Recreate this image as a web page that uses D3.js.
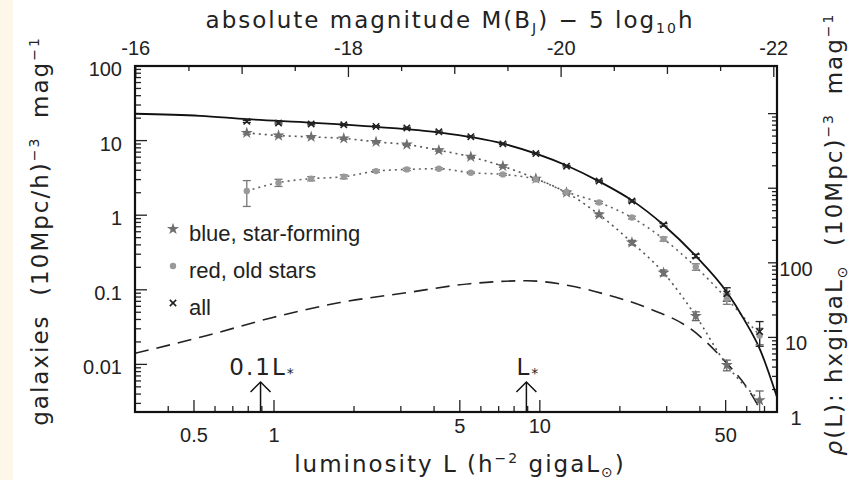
<!DOCTYPE html>
<html>
<head>
  <meta charset="utf-8">
  <title>Galaxy luminosity function</title>
  <script src="https://d3js.org/d3.v7.min.js"></script>
  <style>
    body { margin: 0; background: #fff; }
    .tick-label { font: 20px "Liberation Sans", Arial, sans-serif; fill: #222; }
    .title { font: 23px "DejaVu Sans", sans-serif; fill: #222; letter-spacing: 2px; }
    .legend { font: 22px "Liberation Sans", Arial, sans-serif; fill: #222; }
  </style>
</head>
<body>
  <script>
    // luminosity bins (h^-2 gigaL_sun) and space densities
    const lum = [0.79, 1.04, 1.38, 1.83, 2.42, 3.16, 4.17, 5.5, 7.26, 9.66, 12.6, 16.7, 22.2, 29.2, 38.6, 50.5, 67.1];
    const phiAll = [18.1, 17.2, 16.7, 16.3, 15.5, 14.8, 13.1, 11.3, 9.04, 6.71, 4.54, 2.87, 1.55, 0.743, 0.284, 0.0885, 0.0275];
    const errAll = [0.6, 0.5, 0.4, 0.4, 0.35, 0.3, 0.3, 0.25, 0.2, 0.15, 0.1, 0.07, 0.05, 0.03, 0.015, 0.018, 0.01];
    const phiBlue = [12.7, 11.7, 11.2, 10.7, 9.61, 8.85, 7.43, 6.06, 4.54, 3.09, 2.01, 1.02, 0.43, 0.169, 0.0446, 0.0098, 0.0033];
    const errBlue = [0.5, 0.4, 0.3, 0.3, 0.3, 0.25, 0.2, 0.2, 0.15, 0.1, 0.08, 0.05, 0.03, 0.015, 0.006, 0.0016, 0.0011];
    const phiRed = [2.11, 2.73, 3.09, 3.28, 3.90, 4.11, 4.20, 3.71, 3.52, 3.02, 2.05, 1.48, 0.93, 0.479, 0.203, 0.0759, 0.0244];
    const errRed = [0.8, 0.3, 0.2, 0.2, 0.15, 0.15, 0.12, 0.1, 0.1, 0.08, 0.06, 0.05, 0.04, 0.03, 0.02, 0.012, 0.006];

    // Schechter fit (solid line)
    const fitL = [0.30, 0.527, 0.79, 1.38, 2.42, 4.17, 7.26, 12.6, 16.7, 22.2, 29.2, 38.6, 50.5, 59, 67.1, 77.8];
    const fitPhi = [22.9, 21.5, 19.4, 17.4, 15.3, 12.9, 9.12, 4.64, 2.84, 1.58, 0.74, 0.284, 0.0933, 0.0386, 0.0163, 0.00374];

    // luminosity density (dashed line, right axis)
    const densL = [0.30, 0.56, 0.99, 1.77, 3.16, 5.46, 8.93, 12.97, 17.3, 25.2, 37.6, 50.5, 60, 68.4];
    const densRho = [6.12, 10.6, 18.5, 29.3, 39.8, 52.5, 57.5, 49.3, 38.6, 25.1, 12.4, 4.5, 2.15, 1.0];

    const lStar = 8.9;
    const magOffset = -17.3; // M(B_J) - 5log h at L = 1

    const xMajor = [0.5, 1, 5, 10, 50];
    const xMinor = [0.4, 0.6, 0.7, 0.8, 0.9, 2, 3, 4, 6, 7, 8, 9, 20, 30, 40, 60, 70];
    const yMajor = [0.01, 0.1, 1, 10, 100];
    const yRMajor = [1, 10, 100, 1000, 10000];
    const yRLabels = [1, 10, 100];
    const magLabels = [-16, -18, -20, -22];
    const magTicks = [-16, -16.5, -17, -17.5, -18, -18.5, -19, -19.5, -20, -20.5, -21, -21.5, -22];

    const width = 863, height = 480;
    const pL = 135, pR = 777, pT = 66, pB = 412;

    const x = d3.scaleLog().domain([0.3, 78]).range([pL, pR]);
    const y = d3.scaleLog().domain([0.0023, 100]).range([pB, pT]);
    const yR = d3.scaleLog().domain([1, 43500]).range([pB, pT]);
    const xm = d3.scaleLinear()
      .domain([magOffset - 2.5 * Math.log10(0.3), magOffset - 2.5 * Math.log10(78)])
      .range([pL, pR]);

    const svg = d3.select("body").append("svg")
      .attr("width", width)
      .attr("height", height);

    svg.append("rect").attr("width", 13).attr("height", height).attr("fill", "#fdf7ea");

    svg.append("clipPath").attr("id", "clip")
      .append("rect").attr("x", pL).attr("y", pT)
      .attr("width", pR - pL).attr("height", pB - pT);

    // minor ticks for log axes
    function minors(lo, hi) {
      const out = [];
      for (let d = lo; d < hi; d *= 10)
        for (let k = 2; k <= 9; k++) out.push(d * k);
      return out;
    }

    const ax = svg.append("g").attr("stroke", "#222").attr("stroke-width", 1.3);

    // bottom ticks
    xMajor.concat(xMinor).forEach(v => {
      const len = xMajor.includes(v) ? 12 : 6;
      ax.append("line").attr("x1", x(v)).attr("x2", x(v)).attr("y1", pB).attr("y2", pB - len);
    });
    // top ticks (magnitude)
    magTicks.forEach(m => {
      const len = magLabels.includes(m) ? 11 : (Number.isInteger(m) ? 8 : 5);
      ax.append("line").attr("x1", xm(m)).attr("x2", xm(m)).attr("y1", pT).attr("y2", pT + len);
    });
    // left ticks
    yMajor.forEach(v => ax.append("line").attr("x1", pL).attr("x2", pL + 12).attr("y1", y(v)).attr("y2", y(v)));
    minors(0.001, 100).filter(v => v > 0.0023 && v < 100).forEach(v =>
      ax.append("line").attr("x1", pL).attr("x2", pL + 6).attr("y1", y(v)).attr("y2", y(v)));
    // right ticks
    yRMajor.forEach(v => ax.append("line").attr("x1", pR).attr("x2", pR - 9).attr("y1", yR(v)).attr("y2", yR(v)));
    minors(1, 10000).filter(v => v < 43500).forEach(v =>
      ax.append("line").attr("x1", pR).attr("x2", pR - 5).attr("y1", yR(v)).attr("y2", yR(v)));

    // tick labels
    const fmt = v => v < 1 ? String(v) : d3.format("d")(v);
    svg.selectAll(".xl").data(xMajor).join("text")
      .attr("class", "tick-label")
      .attr("x", d => x(d)).attr("y", d => (d === 5 || d === 10) ? 433 : 442)
      .attr("text-anchor", "middle").text(fmt);
    svg.selectAll(".ml").data(magLabels).join("text")
      .attr("class", "tick-label")
      .attr("x", d => xm(d)).attr("y", 55)
      .attr("text-anchor", "middle").text(d => String(d));
    svg.selectAll(".yl").data(yMajor).join("text")
      .attr("class", "tick-label")
      .attr("x", 122).attr("y", d => y(d) + 10)
      .attr("text-anchor", "end").text(fmt);
    svg.selectAll(".yrl").data(yRLabels).join("text")
      .attr("class", "tick-label")
      .attr("x", 796).attr("y", d => yR(d) + 13)
      .attr("text-anchor", "middle").text(fmt);

    // plot contents
    const plot = svg.append("g").attr("clip-path", "url(#clip)");

    const smooth = d3.line().x(d => x(d[0])).y(d => y(d[1])).curve(d3.curveMonotoneX);

    plot.append("path")
      .datum(densL.map((l, i) => [l, densRho[i]]))
      .attr("fill", "none").attr("stroke", "#222").attr("stroke-width", 1.6)
      .attr("stroke-dasharray", "14,8")
      .attr("d", d3.line().x(d => x(d[0])).y(d => yR(d[1])).curve(d3.curveMonotoneX));

    plot.append("path")
      .datum(lum.map((l, i) => [l, phiBlue[i]]))
      .attr("fill", "none").attr("stroke", "#555").attr("stroke-width", 1.6)
      .attr("stroke-dasharray", "2,4").attr("d", smooth);

    plot.append("path")
      .datum(lum.map((l, i) => [l, phiRed[i]]))
      .attr("fill", "none").attr("stroke", "#666").attr("stroke-width", 1.6)
      .attr("stroke-dasharray", "2,4").attr("d", smooth);

    plot.append("path")
      .datum(fitL.map((l, i) => [l, fitPhi[i]]))
      .attr("fill", "none").attr("stroke", "#111").attr("stroke-width", 1.8)
      .attr("d", smooth);

    function errorBars(vals, errs, color) {
      lum.forEach((l, i) => {
        const lo = Math.max(vals[i] - errs[i], 0.0001), hi = vals[i] + errs[i];
        const g = plot.append("g").attr("stroke", color).attr("stroke-width", 1.3);
        g.append("line").attr("x1", x(l)).attr("x2", x(l)).attr("y1", y(lo)).attr("y2", y(hi));
        g.append("line").attr("x1", x(l) - 4).attr("x2", x(l) + 4).attr("y1", y(lo)).attr("y2", y(lo));
        g.append("line").attr("x1", x(l) - 4).attr("x2", x(l) + 4).attr("y1", y(hi)).attr("y2", y(hi));
      });
    }
    errorBars(phiRed, errRed, "#777");
    errorBars(phiBlue, errBlue, "#666");
    errorBars(phiAll, errAll, "#222");

    const star = d3.symbol().type(d3.symbolStar).size(45);
    const dot = d3.symbol().type(d3.symbolCircle).size(32);
    const cross = d3.symbol().type(d3.symbolTimes).size(28);

    plot.selectAll(".blue").data(lum).join("path")
      .attr("transform", (d, i) => `translate(${x(d)},${y(phiBlue[i])})`)
      .attr("d", star).attr("fill", "#6f6f6f");
    plot.selectAll(".red").data(lum).join("path")
      .attr("transform", (d, i) => `translate(${x(d)},${y(phiRed[i])})`)
      .attr("d", dot).attr("fill", "#999");
    plot.selectAll(".all").data(lum).join("path")
      .attr("transform", (d, i) => `translate(${x(d)},${y(phiAll[i])})`)
      .attr("d", cross).attr("fill", "none").attr("stroke", "#222").attr("stroke-width", 1.6);

    // frame
    svg.append("rect")
      .attr("x", pL).attr("y", pT)
      .attr("width", pR - pL).attr("height", pB - pT)
      .attr("fill", "none").attr("stroke", "#111").attr("stroke-width", 2.2);

    // legend
    const legendRows = [
      { label: "blue, star-forming", sym: star, fill: "#6f6f6f", stroke: "none" },
      { label: "red, old stars", sym: dot, fill: "#999", stroke: "none" },
      { label: "all", sym: cross, fill: "none", stroke: "#222" }
    ];
    legendRows.forEach((r, i) => {
      svg.append("path").attr("d", r.sym)
        .attr("transform", `translate(173,${229 + i * 37})`)
        .attr("fill", r.fill).attr("stroke", r.stroke).attr("stroke-width", 1.6);
      svg.append("text").attr("class", "legend")
        .attr("x", 189).attr("y", 241 + i * 37).text(r.label);
    });

    // L* arrows
    [[0.1 * lStar, "0.1L"], [lStar, "L"]].forEach(([v, t]) => {
      const g = svg.append("g").attr("stroke", "#111").attr("stroke-width", 1.5).attr("fill", "none");
      g.append("line").attr("x1", x(v)).attr("x2", x(v)).attr("y1", pB).attr("y2", 382);
      g.append("path").attr("d", `M${x(v) - 10},392L${x(v)},382L${x(v) + 10},392`);
      const lab = svg.append("text").attr("class", "title")
        .attr("font-size", 21).attr("letter-spacing", 1)
        .attr("x", x(v) + 2).attr("y", 375).attr("text-anchor", "middle");
      lab.append("tspan").text(t);
      lab.append("tspan").attr("font-size", 14).attr("dy", 3).text("*");
    });

    // axis titles
    const tTop = svg.append("text").attr("class", "title")
      .attr("x", 450).attr("y", 28).attr("text-anchor", "middle");
    tTop.append("tspan").text("absolute magnitude M(B");
    tTop.append("tspan").attr("font-size", 14).attr("dy", 5).text("J");
    tTop.append("tspan").attr("dy", -5).text(") \u2212 5 log");
    tTop.append("tspan").attr("font-size", 14).attr("dy", 5).text("10");
    tTop.append("tspan").attr("dy", -5).text("h");

    const tBot = svg.append("text").attr("class", "title")
      .attr("x", 460).attr("y", 472).attr("text-anchor", "middle");
    tBot.append("tspan").text("luminosity L (h");
    tBot.append("tspan").attr("font-size", 14).attr("dy", -9).text("\u22122");
    tBot.append("tspan").attr("dy", 9).text("\u00a0gigaL");
    tBot.append("tspan").attr("font-size", 14).attr("dy", 5).text("\u2299");
    tBot.append("tspan").attr("dy", -5).text(")");

    const tLeft = svg.append("text").attr("class", "title")
      .attr("letter-spacing", 3)
      .attr("transform", "translate(48,231) rotate(-90)").attr("text-anchor", "middle");
    tLeft.append("tspan").text("galaxies\u00a0\u00a0(10Mpc/h)");
    tLeft.append("tspan").attr("font-size", 14).attr("dy", -9).text("\u22123");
    tLeft.append("tspan").attr("dy", 9).text("\u00a0\u00a0mag");
    tLeft.append("tspan").attr("font-size", 14).attr("dy", -9).text("\u22121");

    const tRight = svg.append("text").attr("class", "title")
      .attr("letter-spacing", 3)
      .attr("transform", "translate(842,234) rotate(-90)").attr("text-anchor", "middle");
    tRight.append("tspan").attr("font-style", "italic").text("\u03c1");
    tRight.append("tspan").text("(L):\u00a0hxgigaL");
    tRight.append("tspan").attr("font-size", 14).attr("dy", 5).text("\u2299");
    tRight.append("tspan").attr("dy", -5).text("\u00a0\u00a0(10Mpc)");
    tRight.append("tspan").attr("font-size", 14).attr("dy", -9).text("\u22123");
    tRight.append("tspan").attr("dy", 9).text("\u00a0\u00a0mag");
    tRight.append("tspan").attr("font-size", 14).attr("dy", -9).text("\u22121");
  </script>
</body>
</html>
